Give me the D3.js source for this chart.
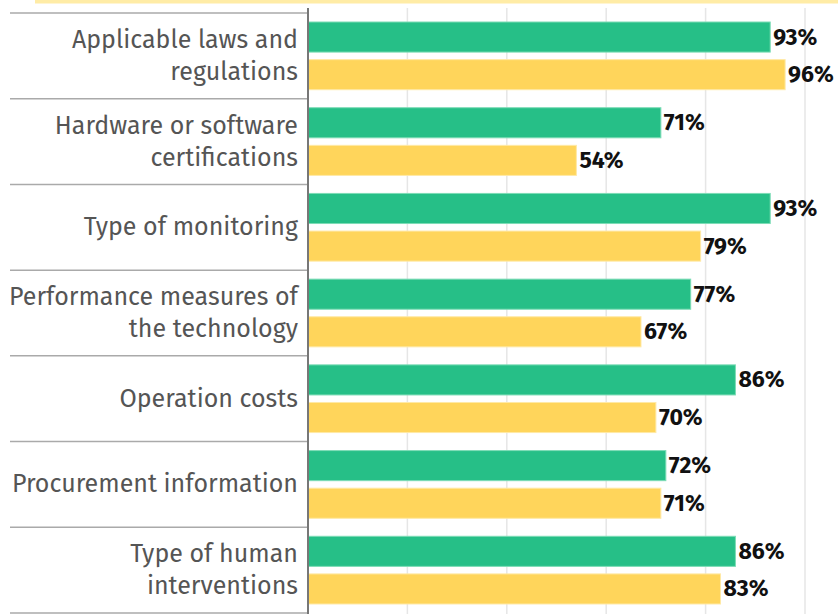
<!DOCTYPE html>
<html>
<head>
<meta charset="utf-8">
<script src="https://cdn.jsdelivr.net/npm/d3@7"></script>
<style>
  body { margin: 0; background: #fff; }
  svg { display: block; }
</style>
</head>
<body>
<div id="chart"></div>
<script>
const categories = [
  "Applicable laws and\nregulations",
  "Hardware or software\ncertifications",
  "Type of monitoring",
  "Performance measures of\nthe technology",
  "Operation costs",
  "Procurement information",
  "Type of human\ninterventions",
];
const seriesNames = ["green", "yellow"];
const greenValues = [93, 71, 93, 77, 86, 72, 86];
const yellowValues = [96, 54, 79, 67, 70, 71, 83];
const xTicks = [20, 40, 60, 80, 100];

const width = 838;
const height = 614;
const margin = { top: 13, right: 33, bottom: 1, left: 308 };

const colors = { green: "#26bf87", yellow: "#ffd55b" };
const strokes = { green: "#7ddcb6", yellow: "#ffe9a6" };

const rows = categories.map((c, i) => ({
  label: c,
  values: [
    { key: "green", value: greenValues[i] },
    { key: "yellow", value: yellowValues[i] },
  ],
}));

const svg = d3
  .select("#chart")
  .append("svg")
  .attr("width", width)
  .attr("height", height);

// light yellow strip at the top (bottom edge of a header box)
svg
  .append("rect")
  .attr("x", 35)
  .attr("y", 0)
  .attr("width", width - 35)
  .attr("height", 3.5)
  .attr("fill", "#ffeca6");

const x = d3
  .scaleLinear()
  .domain([0, 100])
  .range([margin.left, width - margin.right]);

const y = d3
  .scaleBand()
  .domain(categories)
  .range([margin.top, height - margin.bottom])
  .padding(0);

const inner = d3
  .scaleBand()
  .domain(seriesNames)
  .range([9, y.bandwidth() - 9])
  .paddingInner(0.2);

// gridlines
svg
  .append("g")
  .selectAll("line")
  .data(xTicks)
  .enter()
  .append("line")
  .attr("x1", (d) => x(d))
  .attr("x2", (d) => x(d))
  .attr("y1", 8)
  .attr("y2", height)
  .attr("stroke", "#e6e6e6")
  .attr("stroke-width", 1.5);

// row separators on the label side
svg
  .append("g")
  .selectAll("line")
  .data(categories.concat(["end"]))
  .enter()
  .append("line")
  .attr("x1", 10)
  .attr("x2", margin.left)
  .attr("y1", (d, i) => margin.top + i * y.step())
  .attr("y2", (d, i) => margin.top + i * y.step())
  .attr("stroke", "#aaaaaa")
  .attr("stroke-width", 1.5);

const row = svg
  .append("g")
  .selectAll(".row")
  .data(rows)
  .enter()
  .append("g")
  .attr("class", "row")
  .attr("transform", (d) => `translate(0,${y(d.label)})`);

row
  .selectAll("rect")
  .data((d) => d.values)
  .enter()
  .append("rect")
  .attr("x", x(0))
  .attr("y", (d) => inner(d.key))
  .attr("width", (d) => x(d.value) - x(0))
  .attr("height", inner.bandwidth())
  .attr("fill", (d) => colors[d.key])
  .attr("stroke", (d) => strokes[d.key])
  .attr("stroke-width", 1);

row
  .selectAll(".value")
  .data((d) => d.values)
  .enter()
  .append("text")
  .attr("class", "value")
  .attr("x", (d) => x(d.value) + 3)
  .attr("y", (d) => inner(d.key) + inner.bandwidth() / 2 - 0.5)
  .attr("dominant-baseline", "central")
  .style("font-family", "'Fira Sans', 'Noto Sans', sans-serif")
  .style("font-size", "23px")
  .style("font-weight", "bold")
  .style("fill", "#111")
  .text((d) => d.value + "%");

// category labels, one or two lines centred in the band
row
  .append("text")
  .attr("class", "label")
  .attr("text-anchor", "end")
  .style("font-family", "'Fira Sans', 'Noto Sans', sans-serif")
  .style("font-size", "25px")
  .style("fill", "#555")
  .each(function (d) {
    const lines = d.label.split("\n");
    const lineH = 32;
    const top = y.bandwidth() / 2 - ((lines.length - 1) * lineH) / 2;
    d3.select(this)
      .selectAll("tspan")
      .data(lines)
      .enter()
      .append("tspan")
      .attr("x", margin.left - 10)
      .attr("y", (l, i) => top + i * lineH)
      .attr("dominant-baseline", "central")
      .text((l) => l);
  });

// vertical axis line
svg
  .append("line")
  .attr("x1", x(0))
  .attr("x2", x(0))
  .attr("y1", 8)
  .attr("y2", height)
  .attr("stroke", "#777")
  .attr("stroke-width", 2);
</script>
</body>
</html>
